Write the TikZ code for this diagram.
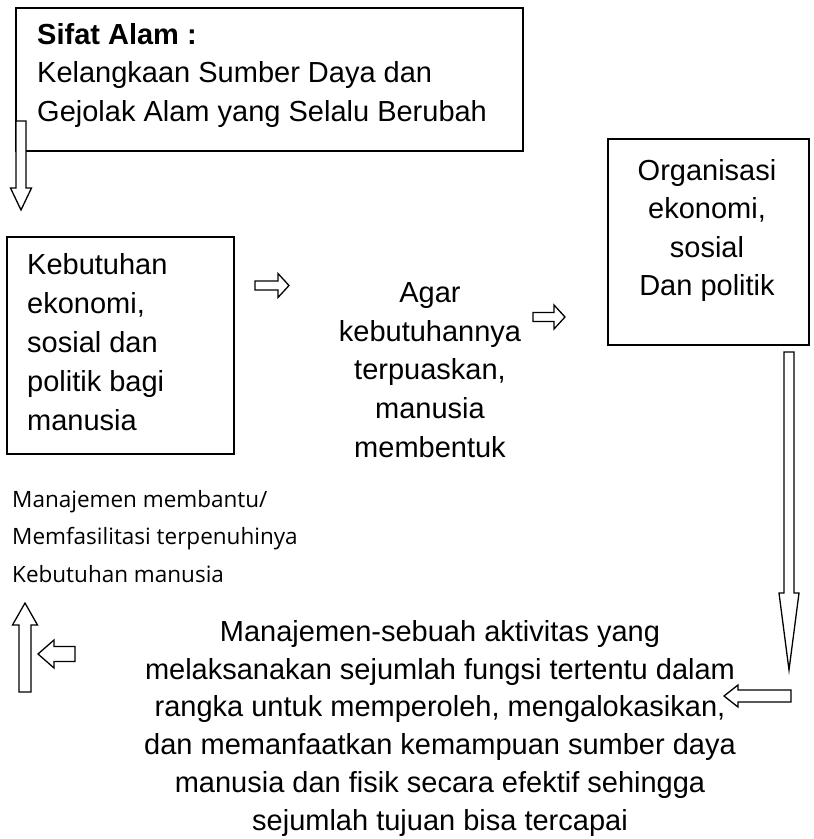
\documentclass[tikz,border=0pt]{standalone}
\usepackage{fontspec}
\setmainfont{Liberation Sans}
\newfontfamily\segoefont{Open Sans}
\newcommand\firststrut{\rule{0pt}{24pt}}
\tikzset{
  box/.style={draw, line width=1.6pt, inner sep=0pt, anchor=north west},
  txt/.style={inner sep=0pt, anchor=north, font=\fontsize{29}{38.5}\selectfont},
  arrowline/.style={draw, fill=white, line width=1.3pt, line join=miter},
  pics/barrow/.style args={#1/#2/#3/#4}{code={
    \path[arrowline] (0,-#2) -- ({#1-#4},-#2) -- ({#1-#4},-#3) -- (#1,0)
      -- ({#1-#4},#3) -- ({#1-#4},#2) -- (0,#2) -- cycle;}}
}
\begin{document}
\begin{tikzpicture}[x=1pt,y=-1pt]
\useasboundingbox (0,0) rectangle (814,839);
% boxes
\node[box, minimum width=507pt, minimum height=143pt] (topbox) at (15,7) {};
\node[box, minimum width=227pt, minimum height=217pt] (needbox) at (6,236) {};
\node[box, minimum width=201pt, minimum height=206pt] (orgbox) at (607,138) {};
% texts
\node[txt, anchor=north west, align=left] (sifat) at (37,20)
  {\firststrut\textbf{Sifat Alam :}\\Kelangkaan Sumber Daya dan\\Gejolak Alam yang Selalu Berubah};
\node[txt, anchor=north west, align=left, font=\fontsize{29}{39}\selectfont] (need) at (27,250)
  {\firststrut Kebutuhan\\ekonomi,\\sosial dan\\politik bagi\\manusia};
\node[txt, align=center, font=\fontsize{29}{38.8}\selectfont] (agar) at (430,278)
  {\firststrut Agar\\kebutuhannya\\terpuaskan,\\manusia\\membentuk};
\node[txt, align=center] (org) at (707,156)
  {\firststrut Organisasi\\ekonomi,\\sosial\\Dan politik};
\node[txt, anchor=north west, align=left, font=\segoefont\fontsize{22.5}{37.5}\selectfont] (fasil) at (12,487)
  {\rule{0pt}{20pt}Manajemen membantu/\\Memfasilitasi terpenuhinya\\Kebutuhan manusia};
\node[txt, align=center, font=\fontsize{29}{37.8}\selectfont] (mgmt) at (440,617)
  {\firststrut Manajemen-sebuah aktivitas yang\\melaksanakan sejumlah fungsi tertentu dalam\\rangka untuk memperoleh, mengalokasikan,\\dan memanfaatkan kemampuan sumber daya\\manusia dan fisik secara efektif sehingga\\sejumlah tujuan bisa tercapai};
% block arrows
\pic[rotate=-90] at (21,121) {barrow=89/5/10.5/22};
\pic at (255,285.5) {barrow=34/4.5/12/11};
\pic at (533,317) {barrow=32/4.5/12/11};
\pic[rotate=-90] at (789,352) {barrow=318/5/10/77};
\pic[rotate=180] at (791,696) {barrow=67/6/11/14};
\pic[rotate=90] at (25,692) {barrow=89/6/12.5/22};
\pic[rotate=180] at (75,654) {barrow=37/7.5/14/16};
\end{tikzpicture}
\end{document}
